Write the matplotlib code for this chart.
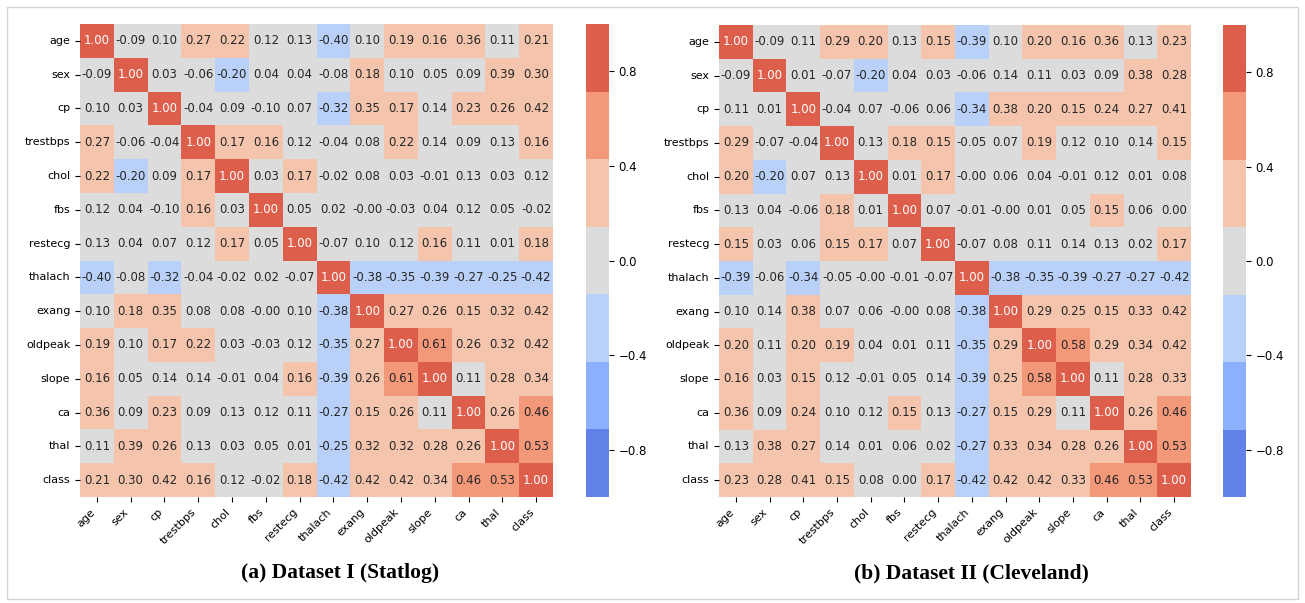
import matplotlib
matplotlib.use("Agg")
import matplotlib.pyplot as plt
from matplotlib.colors import ListedColormap
from matplotlib.patches import Rectangle
import seaborn as sns
import numpy as np

features = ["age", "sex", "cp", "trestbps", "chol", "fbs", "restecg",
            "thalach", "exang", "oldpeak", "slope", "ca", "thal", "class"]

# correlation matrix, Dataset I (Statlog)
corr_statlog = [
    [1.00, -0.09, 0.10, 0.27, 0.22, 0.12, 0.13, -0.40, 0.10, 0.19, 0.16, 0.36, 0.11, 0.21],
    [-0.09, 1.00, 0.03, -0.06, -0.20, 0.04, 0.04, -0.08, 0.18, 0.10, 0.05, 0.09, 0.39, 0.30],
    [0.10, 0.03, 1.00, -0.04, 0.09, -0.10, 0.07, -0.32, 0.35, 0.17, 0.14, 0.23, 0.26, 0.42],
    [0.27, -0.06, -0.04, 1.00, 0.17, 0.16, 0.12, -0.04, 0.08, 0.22, 0.14, 0.09, 0.13, 0.16],
    [0.22, -0.20, 0.09, 0.17, 1.00, 0.03, 0.17, -0.02, 0.08, 0.03, -0.01, 0.13, 0.03, 0.12],
    [0.12, 0.04, -0.10, 0.16, 0.03, 1.00, 0.05, 0.02, -0.004, -0.03, 0.04, 0.12, 0.05, -0.02],
    [0.13, 0.04, 0.07, 0.12, 0.17, 0.05, 1.00, -0.07, 0.10, 0.12, 0.16, 0.11, 0.01, 0.18],
    [-0.40, -0.08, -0.32, -0.04, -0.02, 0.02, -0.07, 1.00, -0.38, -0.35, -0.39, -0.27, -0.25, -0.42],
    [0.10, 0.18, 0.35, 0.08, 0.08, -0.004, 0.10, -0.38, 1.00, 0.27, 0.26, 0.15, 0.32, 0.42],
    [0.19, 0.10, 0.17, 0.22, 0.03, -0.03, 0.12, -0.35, 0.27, 1.00, 0.61, 0.26, 0.32, 0.42],
    [0.16, 0.05, 0.14, 0.14, -0.01, 0.04, 0.16, -0.39, 0.26, 0.61, 1.00, 0.11, 0.28, 0.34],
    [0.36, 0.09, 0.23, 0.09, 0.13, 0.12, 0.11, -0.27, 0.15, 0.26, 0.11, 1.00, 0.26, 0.46],
    [0.11, 0.39, 0.26, 0.13, 0.03, 0.05, 0.01, -0.25, 0.32, 0.32, 0.28, 0.26, 1.00, 0.53],
    [0.21, 0.30, 0.42, 0.16, 0.12, -0.02, 0.18, -0.42, 0.42, 0.42, 0.34, 0.46, 0.53, 1.00],
]

# correlation matrix, Dataset II (Cleveland)
corr_cleveland = [
    [1.00, -0.09, 0.11, 0.29, 0.20, 0.13, 0.15, -0.39, 0.10, 0.20, 0.16, 0.36, 0.13, 0.23],
    [-0.09, 1.00, 0.01, -0.07, -0.20, 0.04, 0.03, -0.06, 0.14, 0.11, 0.03, 0.09, 0.38, 0.28],
    [0.11, 0.01, 1.00, -0.04, 0.07, -0.06, 0.06, -0.34, 0.38, 0.20, 0.15, 0.24, 0.27, 0.41],
    [0.29, -0.07, -0.04, 1.00, 0.13, 0.18, 0.15, -0.05, 0.07, 0.19, 0.12, 0.10, 0.14, 0.15],
    [0.20, -0.20, 0.07, 0.13, 1.00, 0.01, 0.17, -0.004, 0.06, 0.04, -0.01, 0.12, 0.01, 0.08],
    [0.13, 0.04, -0.06, 0.18, 0.01, 1.00, 0.07, -0.01, -0.004, 0.01, 0.05, 0.15, 0.06, 0.00],
    [0.15, 0.03, 0.06, 0.15, 0.17, 0.07, 1.00, -0.07, 0.08, 0.11, 0.14, 0.13, 0.02, 0.17],
    [-0.39, -0.06, -0.34, -0.05, -0.004, -0.01, -0.07, 1.00, -0.38, -0.35, -0.39, -0.27, -0.27, -0.42],
    [0.10, 0.14, 0.38, 0.07, 0.06, -0.004, 0.08, -0.38, 1.00, 0.29, 0.25, 0.15, 0.33, 0.42],
    [0.20, 0.11, 0.20, 0.19, 0.04, 0.01, 0.11, -0.35, 0.29, 1.00, 0.58, 0.29, 0.34, 0.42],
    [0.16, 0.03, 0.15, 0.12, -0.01, 0.05, 0.14, -0.39, 0.25, 0.58, 1.00, 0.11, 0.28, 0.33],
    [0.36, 0.09, 0.24, 0.10, 0.12, 0.15, 0.13, -0.27, 0.15, 0.29, 0.11, 1.00, 0.26, 0.46],
    [0.13, 0.38, 0.27, 0.14, 0.01, 0.06, 0.02, -0.27, 0.33, 0.34, 0.28, 0.26, 1.00, 0.53],
    [0.23, 0.28, 0.41, 0.15, 0.08, 0.00, 0.17, -0.42, 0.42, 0.42, 0.33, 0.46, 0.53, 1.00],
]

captions = ["(a) Dataset I (Statlog)", "(b) Dataset II (Cleveland)"]
cbar_ticks = [-0.8, -0.4, 0.0, 0.4, 0.8]

W, H = 1305, 603
fig = plt.figure(figsize=(W / 100, H / 100), dpi=100)

cmap = ListedColormap(sns.color_palette("coolwarm", 7))

def px_axes(x0, y0, x1, y1):
    return fig.add_axes([x0 / W, 1 - y1 / H, (x1 - x0) / W, (y1 - y0) / H])

panels = [
    (corr_statlog, (80, 24, 553, 497), (586, 24, 609, 497), 340),
    (corr_cleveland, (719, 25, 1191, 497), (1223, 25, 1246, 497), 971),
]

for (data, hm_box, cb_box, cap_x), caption in zip(panels, captions):
    ax = px_axes(*hm_box)
    cax = px_axes(*cb_box)
    sns.heatmap(np.array(data), ax=ax, cbar_ax=cax, cmap=cmap, vmin=-1, vmax=1,
                annot=True, fmt=".2f", annot_kws={"fontsize": 8.5},
                xticklabels=features, yticklabels=features, square=False)
    ax.set_xticklabels(features, rotation=45, ha="right", fontsize=8)
    ax.set_yticklabels(features, rotation=0, fontsize=8)
    cax.set_yticks(cbar_ticks)
    cax.tick_params(labelsize=8.5)
    fig.text(cap_x / W, 1 - 573 / H, caption, ha="center", va="center",
             fontsize=15.5, fontweight="bold", family="Liberation Serif")

# light frame around the whole figure
fig.patches.append(Rectangle((7 / W, 4 / H), 1291 / W, 592 / H, transform=fig.transFigure,
                             fill=False, edgecolor="#d4d4d4", linewidth=1))

fig.savefig("out.png", dpi=100)
